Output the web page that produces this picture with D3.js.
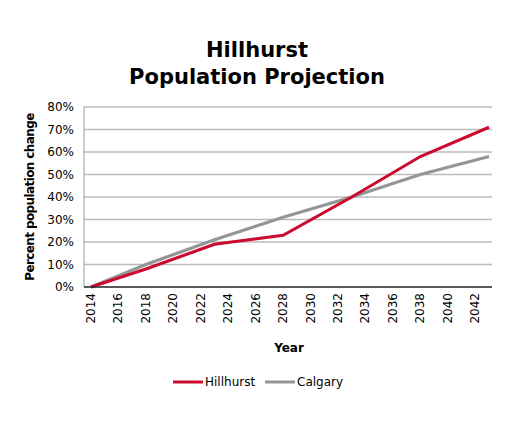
<!DOCTYPE html>
<html><head><meta charset="utf-8">
<script src="https://cdn.jsdelivr.net/npm/d3@7"></script>
<style>body{margin:0;background:#fff}text{font-family:"DejaVu Sans",sans-serif}</style>
</head><body><svg id="c" width="509" height="425"></svg>
<script>
const years=[2014,2018,2023,2028,2033,2038,2043];
const hillhurst=[0,8,19,23,40,58,71];
const calgary=[0,10,21,31,40,50,58];
const xTicks=d3.range(2014,2043,2);
const yTicks=[0,10,20,30,40,50,60,70,80];
const svg=d3.select("#c");
const x=d3.scaleLinear().domain([2014,2043]).range([91,489]);
const y=d3.scaleLinear().domain([0,80]).range([287,107]);
svg.append("text").attr("x",257).attr("y",57).attr("text-anchor","middle").attr("font-size",21).attr("font-weight","bold").text("Hillhurst");
svg.append("text").attr("x",257).attr("y",84).attr("text-anchor","middle").attr("font-size",21).attr("font-weight","bold").text("Population Projection");
svg.append("g").selectAll("line").data(yTicks.slice(1)).join("line").attr("x1",84).attr("x2",492).attr("y1",d=>y(d)).attr("y2",d=>y(d)).attr("stroke","#bbb").attr("stroke-width",1.3);
svg.append("line").attr("x1",84).attr("x2",84).attr("y1",107).attr("y2",287).attr("stroke","#999");
svg.append("g").selectAll("text").data(yTicks).join("text").attr("x",74).attr("y",d=>y(d)+4).attr("text-anchor","end").attr("font-size",12).text(d=>d+"%");
svg.append("g").selectAll("text").data(xTicks).join("text").attr("transform",d=>`translate(${x(d)+4},293) rotate(-90)`).attr("text-anchor","end").attr("font-size",12).text(d=>d);
svg.append("text").attr("transform","translate(34,197) rotate(-90)").attr("text-anchor","middle").attr("font-size",12).attr("font-weight","bold").attr("letter-spacing",-0.6).text("Percent population change");
svg.append("text").attr("x",289).attr("y",352).attr("text-anchor","middle").attr("font-size",12).attr("font-weight","bold").text("Year");
const line=d3.line().x((d,i)=>x(years[i])).y(d=>y(d));
svg.append("path").attr("d",line(calgary)).attr("fill","none").attr("stroke","#959595").attr("stroke-width",3);
svg.append("path").attr("d",line(hillhurst)).attr("fill","none").attr("stroke","#cc0a2f").attr("stroke-width",3);
svg.append("line").attr("x1",84).attr("x2",492).attr("y1",287).attr("y2",287).attr("stroke","#222").attr("stroke-width",1.3);
const leg=[["Hillhurst","#cc0a2f",173],["Calgary","#959595",265]];
leg.forEach(([n,c,lx])=>{svg.append("line").attr("x1",lx).attr("x2",lx+30).attr("y1",382).attr("y2",382).attr("stroke",c).attr("stroke-width",3);
svg.append("text").attr("x",lx+32).attr("y",386).attr("font-size",12).text(n);});
</script></body></html>
